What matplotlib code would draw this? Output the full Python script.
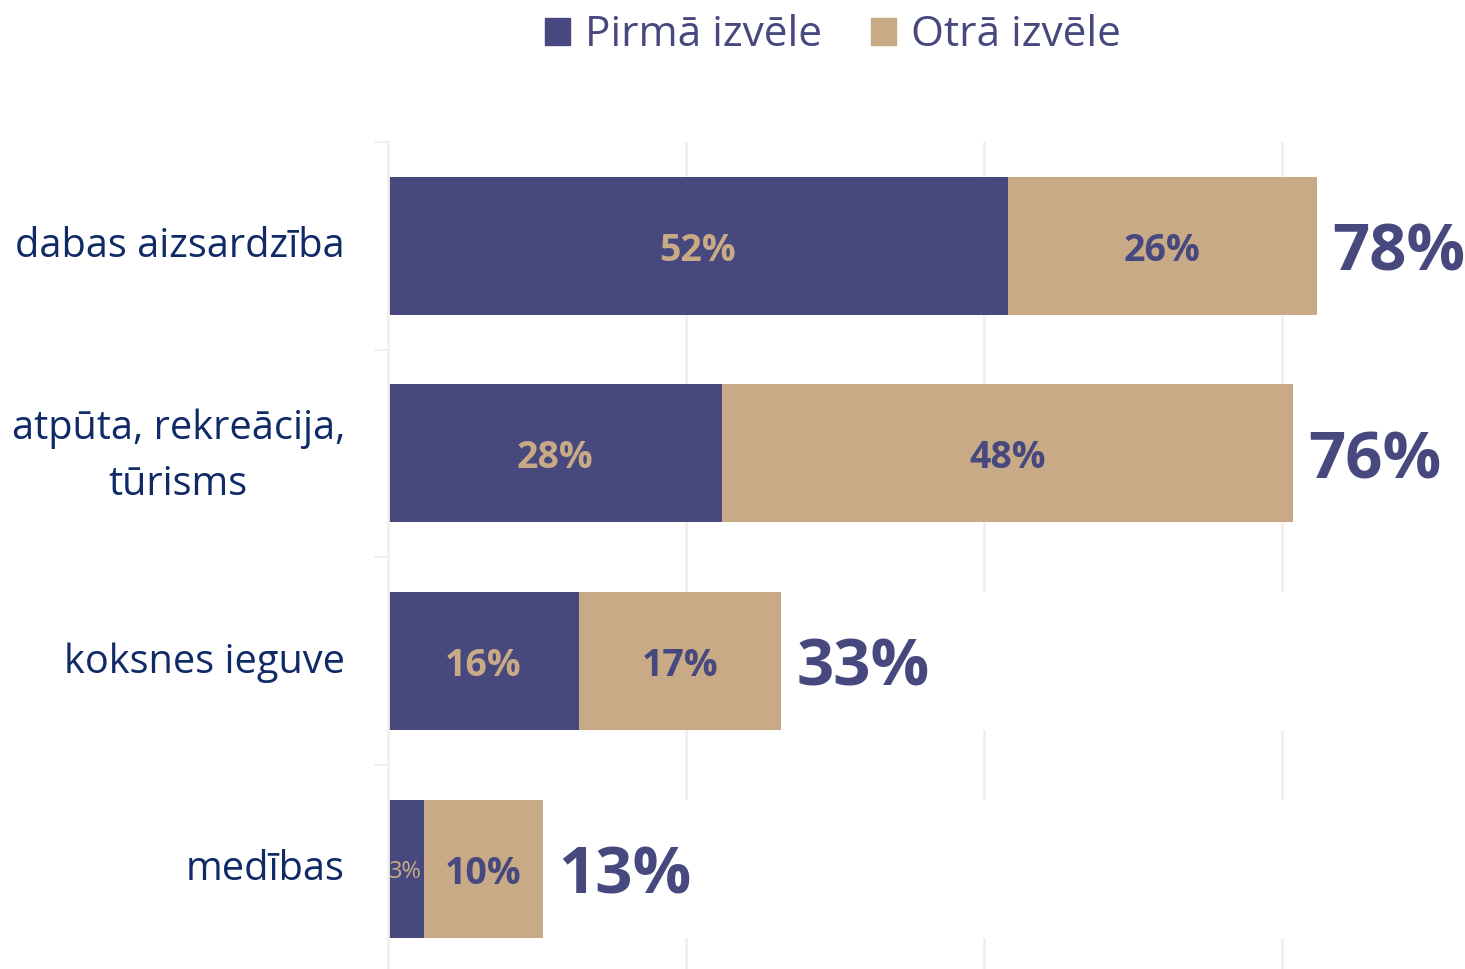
import numpy as np
import matplotlib
matplotlib.use("Agg")
import matplotlib.pyplot as plt
from matplotlib.patches import Patch

# dati (percentuali)
categories = ["dabas aizsardzība", "atpūta, rekreācija,\ntūrisms", "koksnes ieguve", "medības"]
first_choice = [52, 28, 16, 3]
second_choice = [26, 48, 17, 10]
series_names = ["Pirmā izvēle", "Otrā izvēle"]

DARK = "#46487e"
TAN = "#c9aa87"
NAVY = "#0f2a66"
GRID = "#f3f0eb"
X_MAX = 90.4

plt.rcParams["font.family"] = ["Open Sans", "DejaVu Sans"]

fig = plt.figure(figsize=(14.65, 9.69), dpi=100)
ax = fig.add_axes([388 / 1465, 0, 1 - 388 / 1465, (969 - 142) / 969])

y = np.arange(len(categories))
first = np.array(first_choice)
second = np.array(second_choice)
total = first + second
h = 138 / 207.5

ax.barh(y, first, height=h, color=DARK, zorder=2)
ax.barh(y, second, left=first, height=h, color=TAN, zorder=2)
ax.barh(y, X_MAX - total, left=total, height=h, color="white", zorder=2)  # copre la griglia a destra

# etichette dei segmenti (offset verso il basso per centrare le cifre)
for yi, a, b in zip(y, first, second):
    if a < 5:
        ax.annotate(f"{a}%", (a / 2, yi), xytext=(0, -2.5), textcoords="offset points",
                    ha="center", va="center", fontsize=17, color=TAN, zorder=3)
    else:
        ax.annotate(f"{a}%", (a / 2, yi), xytext=(0, -3.5), textcoords="offset points",
                    ha="center", va="center", fontsize=27, fontweight="bold", color=TAN, zorder=3)
    ax.annotate(f"{b}%", (a + b / 2, yi), xytext=(0, -3.5), textcoords="offset points",
                ha="center", va="center", fontsize=27, fontweight="bold", color=DARK, zorder=3)

# totali
for yi, t in zip(y, total):
    ax.annotate(f"{t}%", (t, yi), xytext=(11, -6), textcoords="offset points",
                ha="left", va="center", fontsize=47, fontweight="bold", color=DARK, zorder=3)

# nomi delle categorie a sinistra dell'asse
for yi, name in zip(y, categories):
    dy = -2.5 if "\n" in name else -1
    ax.annotate(name, (0, yi), xycoords=("axes fraction", "data"), xytext=(-31, dy),
                textcoords="offset points", ha="right", va="center", multialignment="center",
                linespacing=1.5, fontsize=28.6, color=NAVY)

ax.set_xlim(0, X_MAX)
ax.set_ylim(3.483, -0.5)
ax.set_xticks([25, 50, 75])
ax.xaxis.grid(True, color=GRID, linewidth=2)
ax.set_axisbelow(True)
ax.tick_params(axis="x", length=0, labelbottom=False)

ax.set_yticks([])
ax.set_yticks(np.arange(len(categories)) - 0.5, minor=True)
ax.tick_params(axis="y", which="minor", length=10, width=1.4, color=GRID)

for side in ["top", "right", "bottom"]:
    ax.spines[side].set_visible(False)
ax.spines["left"].set_color(GRID)
ax.spines["left"].set_linewidth(2)

handles = [Patch(color=DARK), Patch(color=TAN)]
fig.legend(handles, series_names, loc="center", bbox_to_anchor=(833 / 1465, 1 - 35 / 969),
           ncol=2, frameon=False, fontsize=30.5, handlelength=0.6, handleheight=0.6,
           handletextpad=0.35, columnspacing=1.15, labelcolor=DARK)

fig.savefig("out.png", dpi=100)
